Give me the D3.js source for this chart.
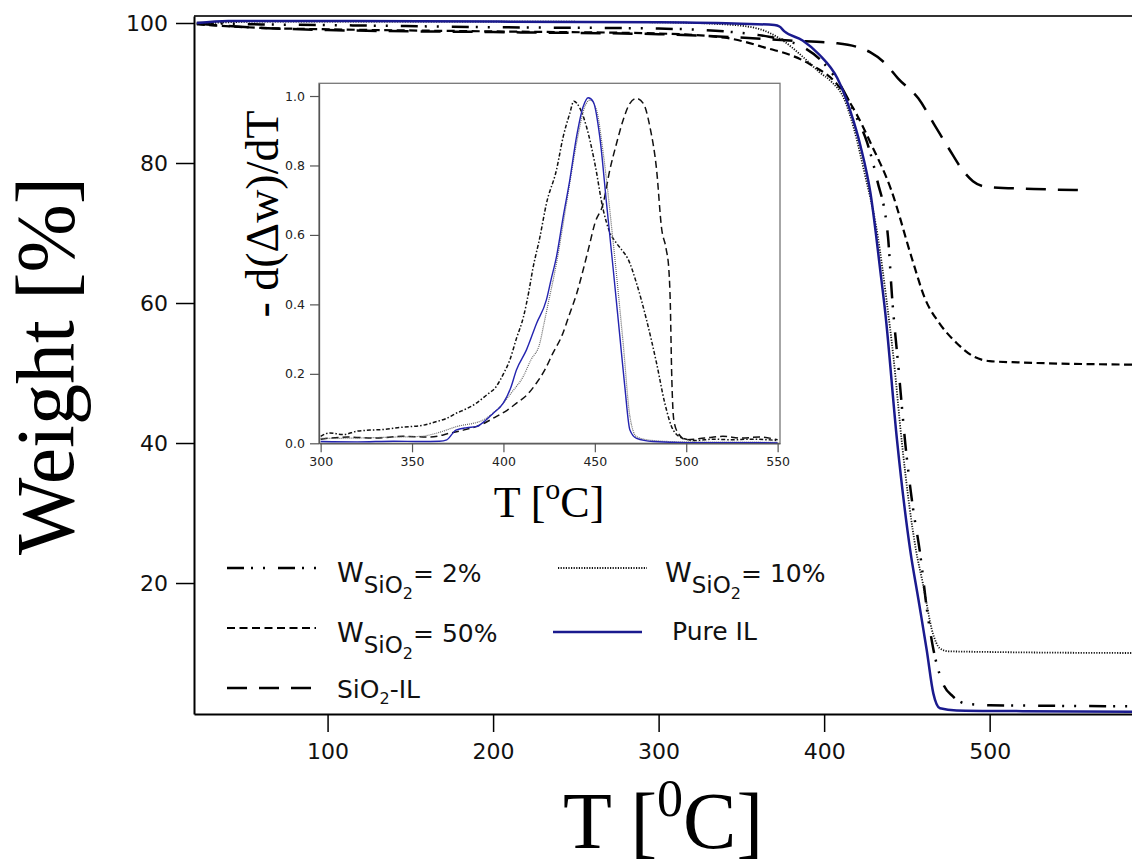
<!DOCTYPE html>
<html>
<head>
<meta charset="utf-8">
<script src="https://cdn.jsdelivr.net/npm/d3@7"></script>
<style>
  body { margin: 0; background: #fff; }
  svg { display: block; }
  .tick text { font-family: "DejaVu Sans", sans-serif; }
</style>
</head>
<body>
<svg id="chart" width="1132" height="867"></svg>
<script>
// TGA curves: [T (°C), weight (%)]
const pureIL = [[21,100.0],[40,100.3],[100,100.3],[200,100.2],[300,100.1],[350,99.9],[370,99.7],[373,99.5],[376,98.8],[387,97.5],[397,95.5],[408,92.1],[416,87.3],[422,82.4],[428,75.7],[434,64.5],[437,58.5],[444,40.5],[452,24.7],[457,17.6],[462,10.4],[466,4.2],[470,2.1],[480,1.8],[520,1.7],[586,1.6]];
const w2 = [[21,100.0],[60,99.8],[100,99.7],[200,99.4],[300,99.2],[340,98.8],[360,98.3],[375,97.6],[387,96.6],[400,94.2],[412,90.2],[420,86.3],[426,82.9],[432,77.6],[438.6,69.4],[441,61],[445,50.5],[449,40],[453.5,31],[457.7,24.7],[462.7,15.2],[465.7,10.9],[471.7,5.7],[477.8,3.8],[486,2.75],[500,2.55],[586,2.4]];
const w10 = [[21,99.9],[60,100.2],[200,100.2],[300,100.1],[340,99.8],[360,99.2],[375,97.5],[387,95.2],[397,93.0],[404,91.7],[412,89.2],[418,84.9],[424,79.0],[432.5,69.4],[437.6,60.6],[442,52],[447,40],[451.5,31],[455.5,24.7],[459.6,20],[465.7,12.8],[469.8,10.7],[475,10.25],[500,10.15],[586,10.0]];
const w50 = [[21,99.8],[60,99.3],[100,99.1],[200,98.8],[300,98.5],[340,97.9],[367,96.3],[380,95.4],[391.5,94.1],[408,91.2],[420,86.8],[428,82.9],[440.6,76.1],[453,66.4],[461,60.6],[470,57.0],[480,54.3],[490,52.4],[500,51.7],[520,51.5],[586,51.2]];
const sio2IL = [[21,99.9],[60,99.3],[100,99.0],[200,98.7],[300,98.4],[346,97.96],[379,97.5],[408,97.1],[428,95.8],[437,94.2],[444.6,92.1],[457,89.2],[467,85.3],[475.5,82.0],[483.6,79.0],[489.9,77.4],[498,76.6],[526.6,76.3],[558.6,76.1]];

// DTG inset: [T (°C), -d(Δw)/dT normalised]
const dtg50 = [[300,0.02],[305,0.03],[312,0.025],[320,0.035],[327,0.038],[335,0.04],[342,0.045],[349,0.048],[356,0.052],[363,0.062],[369,0.072],[374,0.086],[380,0.1],[385,0.115],[391,0.14],[396,0.163],[400,0.2],[403.5,0.24],[407,0.3],[411,0.365],[414,0.44],[416,0.5],[420,0.595],[423.5,0.69],[429,0.787],[432.7,0.883],[436.3,0.95],[438.5,0.985],[441.8,0.965],[445.4,0.912],[450,0.806],[454.6,0.672],[458,0.61],[461.9,0.576],[465,0.555],[468.2,0.53],[472.8,0.461],[478.3,0.355],[483.8,0.23],[488.3,0.115],[492.9,0.038],[498.4,0.014],[505,0.008],[515,0.012],[525,0.01],[535,0.012],[545,0.01],[550,0.008]];
const dtgSio2 = [[300,0.012],[315,0.018],[330,0.015],[345,0.02],[360,0.018],[370.6,0.029],[378,0.038],[385,0.048],[391,0.062],[396,0.077],[402,0.095],[407,0.115],[413,0.14],[418,0.173],[423,0.215],[427,0.259],[432,0.31],[436.3,0.374],[440,0.43],[443.6,0.499],[447,0.57],[450,0.633],[454.6,0.691],[458.2,0.787],[461.9,0.864],[465.5,0.931],[469.2,0.979],[472.8,0.993],[476.5,0.979],[480.1,0.912],[483.8,0.787],[486.5,0.62],[489,0.56],[490.5,0.5],[491.3,0.4],[492,0.21],[493.2,0.067],[495.6,0.029],[500,0.01],[510,0.015],[520,0.02],[530,0.015],[540,0.018],[550,0.01]];
const dtgPure = [[300,0.005],[320,0.004],[340,0.006],[355,0.005],[365,0.006],[369,0.01],[374,0.038],[380,0.045],[385.2,0.048],[390,0.065],[394.3,0.086],[399.8,0.115],[404,0.16],[407.1,0.211],[412.6,0.269],[418.1,0.345],[423.5,0.413],[426,0.47],[429,0.537],[432.7,0.653],[436.3,0.758],[440,0.883],[443.6,0.969],[446.4,0.995],[449.1,0.984],[452.7,0.883],[456.4,0.691],[460.1,0.499],[463.7,0.307],[466.4,0.163],[469.2,0.038],[472.8,0.014],[481.9,0.005],[500,0.002],[520,0.002],[550,0.001]];
const dtg10 = [[300,0.014],[320,0.015],[340,0.018],[355,0.02],[363.3,0.029],[374.3,0.048],[388.9,0.067],[395,0.09],[399.8,0.115],[405,0.15],[410.8,0.192],[415,0.24],[419.9,0.288],[422,0.34],[424.5,0.403],[429,0.518],[434.5,0.691],[440,0.864],[444.5,0.969],[447.3,0.988],[450.9,0.96],[454.6,0.835],[460.1,0.576],[465.5,0.288],[469.2,0.077],[472.8,0.019],[481.9,0.008],[500,0.004],[550,0.003]];

const mainXTicks = [100, 200, 300, 400, 500];
const mainYTicks = [20, 40, 60, 80, 100];
const insetXTicks = [300, 350, 400, 450, 500, 550];
const insetYTicks = [0, 0.2, 0.4, 0.6, 0.8, 1.0];

const BLUE = "#1a1a8e";
const styles = {
  sio2IL: { stroke: "#000", width: 2.5, dash: "20,12" },
  w50: { stroke: "#000", width: 2.2, dash: "8,4.5" },
  w2: { stroke: "#000", width: 2.5, dash: "17,7,2,10,2,13" },
  w10: { stroke: "#111", width: 1.8, dash: "1.2,1.4" },
  pureIL: { stroke: BLUE, width: 2.5, dash: null },
};

const svg = d3.select("#chart");

// ---- main plot ----
const x = d3.scaleLinear().domain([19.3, 586]).range([194, 1132]);
const y = d3.scaleLinear().domain([1.29, 101]).range([714, 16]);

svg.append("clipPath").attr("id", "clip-main")
  .append("rect").attr("x", 194).attr("y", 16).attr("width", 938).attr("height", 698);

const line = d3.line().x((d) => x(d[0])).y((d) => y(d[1])).curve(d3.curveMonotoneX);
const curves = svg.append("g").attr("clip-path", "url(#clip-main)");
[["sio2IL", sio2IL], ["w50", w50], ["w2", w2], ["w10", w10], ["pureIL", pureIL]].forEach(([k, data]) => {
  const s = styles[k];
  curves.append("path").datum(data)
    .attr("d", line)
    .attr("fill", "none")
    .attr("stroke", s.stroke)
    .attr("stroke-width", s.width)
    .attr("stroke-dasharray", s.dash);
});

// frame
svg.append("line").attr("x1", 194).attr("x2", 1132).attr("y1", 16).attr("y2", 16)
  .attr("stroke", "#333").attr("stroke-width", 2);

const yAxis = svg.append("g").attr("transform", "translate(194,0)")
  .call(d3.axisLeft(y).tickValues(mainYTicks).tickSize(18).tickPadding(8).tickSizeOuter(0));
const xAxis = svg.append("g").attr("transform", "translate(0,714)")
  .call(d3.axisBottom(x).tickValues(mainXTicks).tickSize(18).tickPadding(11).tickSizeOuter(0));
[yAxis, xAxis].forEach((g) => {
  g.select(".domain").attr("stroke", "#000").attr("stroke-width", 2);
  g.selectAll(".tick line").attr("stroke", "#000").attr("stroke-width", 1.5);
  g.selectAll(".tick text").attr("font-size", 22).attr("fill", "#111");
});

// axis titles
svg.append("text")
  .attr("transform", "translate(73,366) rotate(-90)")
  .attr("text-anchor", "middle")
  .attr("font-family", "Liberation Serif, serif")
  .attr("font-size", 82)
  .text("Weight [%]");

const xt = svg.append("text")
  .attr("x", 663).attr("y", 848)
  .attr("text-anchor", "middle")
  .attr("font-family", "Liberation Serif, serif")
  .attr("font-size", 80);
xt.append("tspan").text("T [");
xt.append("tspan").attr("font-size", 52).attr("dy", -32).text("0");
xt.append("tspan").attr("dy", 32).text("C]");

// ---- legend ----
const legendItems = [
  { key: "w2", lx: 227, ly: 568, tx: 337, pct: "2%" },
  { key: "w50", lx: 227, ly: 628, tx: 337, pct: "50%" },
  { key: "sio2IL", lx: 227, ly: 688, tx: 337, text: "SiO2-IL" },
  { key: "w10", lx: 558, ly: 568, tx: 665, pct: "10%" },
  { key: "pureIL", lx: 553, ly: 632, tx: 672, text: "Pure IL" },
];
const legend = svg.append("g").attr("font-family", "DejaVu Sans, sans-serif").attr("fill", "#111");
legendItems.forEach((it) => {
  const s = styles[it.key];
  legend.append("line")
    .attr("x1", it.lx).attr("x2", it.lx + 89)
    .attr("y1", it.ly).attr("y2", it.ly)
    .attr("stroke", s.stroke).attr("stroke-width", s.width)
    .attr("stroke-dasharray", s.dash);
  const t = legend.append("text").attr("x", it.tx).attr("font-size", 25);
  if (it.pct) {
    t.attr("y", it.ly + 14);
    t.append("tspan").attr("font-size", 27).text("W");
    t.append("tspan").attr("font-size", 23).attr("dy", 11).text("SiO");
    t.append("tspan").attr("font-size", 16).attr("dy", 6).text("2");
    t.append("tspan").attr("dy", -17).text("= " + it.pct);
  } else if (it.text === "SiO2-IL") {
    t.attr("y", it.ly + 10);
    t.append("tspan").text("SiO");
    t.append("tspan").attr("font-size", 16).attr("dy", 6).text("2");
    t.append("tspan").attr("dy", -6).text("-IL");
  } else {
    t.attr("y", it.ly + 8).text(it.text);
  }
});

// ---- inset ----
const xi = d3.scaleLinear().domain([299.1, 551.3]).range([319, 780]);
const yi = d3.scaleLinear().domain([0, 1.0366]).range([443.3, 83.3]);
const inset = svg.append("g");
inset.append("rect").attr("x", 319).attr("y", 83.3).attr("width", 461).attr("height", 360)
  .attr("fill", "#fff").attr("stroke", "#777").attr("stroke-width", 1.3);

const iline = d3.line().x((d) => xi(d[0])).y((d) => yi(d[1])).curve(d3.curveMonotoneX);
[
  [dtgSio2, "#111", 1.5, "7,4"],
  [dtg50, "#111", 1.5, "4,2,1.5,2"],
  [dtg10, "#666", 1.2, "1,1"],
  [dtgPure, "#2424b0", 1.4, null],
].forEach(([data, c, w, dash]) => {
  inset.append("path").datum(data)
    .attr("d", iline).attr("fill", "none")
    .attr("stroke", c).attr("stroke-width", w).attr("stroke-dasharray", dash);
});

const iy = inset.append("g").attr("transform", "translate(319,0)")
  .call(d3.axisLeft(yi).tickValues(insetYTicks).tickFormat(d3.format(".1f")).tickSize(9).tickPadding(5).tickSizeOuter(0));
const ix = inset.append("g").attr("transform", "translate(0,443.3)")
  .call(d3.axisBottom(xi).tickValues(insetXTicks).tickSize(9).tickPadding(5).tickSizeOuter(0));
[iy, ix].forEach((g) => {
  g.select(".domain").attr("stroke", "#555").attr("stroke-width", 1.3);
  g.selectAll(".tick line").attr("stroke", "#555").attr("stroke-width", 1.2);
  g.selectAll(".tick text").attr("font-size", 12.5).attr("fill", "#222");
});

const ixt = inset.append("text")
  .attr("x", 549).attr("y", 517)
  .attr("text-anchor", "middle")
  .attr("font-family", "Liberation Serif, serif")
  .attr("font-size", 44);
ixt.append("tspan").text("T [");
ixt.append("tspan").attr("font-size", 30).attr("dy", -18).text("o");
ixt.append("tspan").attr("dy", 18).text("C]");

inset.append("text")
  .attr("transform", "translate(278,214) rotate(-90)")
  .attr("text-anchor", "middle")
  .attr("font-family", "Liberation Serif, serif")
  .attr("font-size", 46)
  .text("- d(\u0394w)/dT");
</script>
</body>
</html>
